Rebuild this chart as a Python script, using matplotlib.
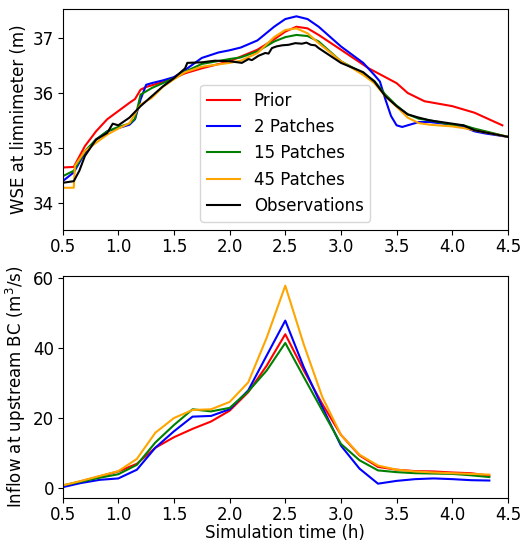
import matplotlib
matplotlib.use("Agg")
import matplotlib.pyplot as plt

# --- Water surface elevation at the limnimeter (m) ---
t_prior = [0.50, 0.60, 0.70, 0.80, 0.90, 1.00, 1.10, 1.15, 1.20, 1.25, 1.30, 1.40, 1.50, 1.60,
           1.75, 2.00, 2.25, 2.40, 2.50, 2.60, 2.70, 2.80, 3.00, 3.25, 3.50, 3.60, 3.75, 4.00,
           4.20, 4.45]
wse_prior = [34.64, 34.65, 35.03, 35.30, 35.52, 35.67, 35.82, 35.89, 36.06, 36.11, 36.14, 36.20,
             36.27, 36.36, 36.45, 36.58, 36.79, 36.98, 37.12, 37.21, 37.18, 37.06, 36.79, 36.45,
             36.18, 36.00, 35.85, 35.76, 35.64, 35.41]

t_p2 = [0.50, 0.60, 0.70, 0.80, 0.90, 1.00, 1.10, 1.15, 1.20, 1.25, 1.30, 1.40, 1.50, 1.60,
        1.75, 1.90, 2.00, 2.10, 2.25, 2.40, 2.50, 2.60, 2.70, 2.80, 3.00, 3.20, 3.30, 3.35,
        3.40, 3.45, 3.50, 3.55, 3.60, 3.70, 3.80, 4.00, 4.10, 4.20, 4.30, 4.50]
wse_p2 = [34.39, 34.55, 34.91, 35.15, 35.30, 35.36, 35.42, 35.52, 35.88, 36.15, 36.18, 36.23,
          36.29, 36.42, 36.64, 36.74, 36.78, 36.83, 36.96, 37.21, 37.35, 37.40, 37.35, 37.21,
          36.85, 36.55, 36.33, 36.21, 35.88, 35.58, 35.41, 35.38, 35.41, 35.47, 35.47, 35.42,
          35.38, 35.30, 35.26, 35.20]

t_p15 = [0.50, 0.60, 0.70, 0.80, 0.90, 1.00, 1.10, 1.15, 1.20, 1.25, 1.30, 1.40, 1.50, 1.60,
         1.75, 2.00, 2.10, 2.25, 2.40, 2.50, 2.60, 2.70, 2.80, 3.00, 3.20, 3.30, 3.40, 3.50,
         3.60, 3.70, 3.80, 4.00, 4.10, 4.20, 4.50]
wse_p15 = [34.48, 34.58, 34.94, 35.15, 35.30, 35.38, 35.44, 35.53, 35.97, 36.03, 36.09, 36.18,
           36.27, 36.39, 36.53, 36.62, 36.65, 36.76, 36.94, 37.02, 37.06, 37.04, 36.94, 36.58,
           36.36, 36.22, 35.97, 35.77, 35.61, 35.53, 35.50, 35.42, 35.41, 35.35, 35.20]

t_p45 = [0.50, 0.60, 0.61, 0.70, 0.80, 0.90, 1.00, 1.10, 1.20, 1.30, 1.40, 1.50, 1.60, 1.75,
         2.00, 2.10, 2.25, 2.40, 2.50, 2.60, 2.70, 2.80, 3.00, 3.20, 3.30, 3.40, 3.50, 3.60,
         3.70, 3.80, 4.00, 4.10, 4.20, 4.50]
wse_p45 = [34.27, 34.27, 34.67, 34.94, 35.09, 35.24, 35.35, 35.45, 35.79, 35.91, 36.11, 36.25,
           36.38, 36.48, 36.55, 36.59, 36.73, 37.02, 37.15, 37.18, 37.09, 36.91, 36.58, 36.33,
           36.18, 35.94, 35.75, 35.55, 35.45, 35.42, 35.39, 35.36, 35.32, 35.20]

t_obs = [0.50, 0.60, 0.65, 0.70, 0.80, 0.90, 0.95, 1.00, 1.10, 1.20, 1.30, 1.40, 1.50, 1.60,
         1.62, 1.75, 1.87, 2.00, 2.11, 2.17, 2.20, 2.26, 2.32, 2.35, 2.38, 2.42, 2.47, 2.53,
         2.59, 2.65, 2.69, 2.73, 2.77, 2.80, 3.00, 3.20, 3.30, 3.40, 3.50, 3.60, 3.70, 3.80,
         4.00, 4.10, 4.20, 4.50]
wse_obs = [34.36, 34.39, 34.58, 34.85, 35.15, 35.27, 35.44, 35.41, 35.55, 35.76, 35.94, 36.12,
           36.27, 36.45, 36.55, 36.56, 36.59, 36.58, 36.55, 36.62, 36.60, 36.68, 36.73, 36.72,
           36.82, 36.85, 36.87, 36.88, 36.91, 36.90, 36.92, 36.88, 36.87, 36.82, 36.55, 36.38,
           36.21, 35.94, 35.76, 35.61, 35.55, 35.50, 35.44, 35.41, 35.32, 35.20]

# --- Inflow hydrograph at the upstream boundary (m3/s), 10-minute steps ---
t_q = [0.500, 0.667, 0.833, 1.000, 1.167, 1.333, 1.500, 1.667, 1.833, 2.000, 2.167, 2.333,
       2.500, 2.667, 2.833, 3.000, 3.167, 3.333, 3.500, 3.667, 3.833, 4.000, 4.167, 4.333]
q_prior = [0.5, 1.9, 3.3, 4.7, 6.9, 11.5, 14.5, 16.9, 19.0, 22.1, 27.4, 35.0,
           44.0, 33.6, 24.0, 15.2, 9.3, 6.0, 5.2, 4.8, 4.7, 4.4, 4.2, 3.5]
q_p2 = [0.2, 1.4, 2.3, 2.7, 5.2, 11.5, 16.2, 20.4, 20.6, 22.5, 27.9, 37.9,
        47.9, 34.5, 23.1, 12.1, 5.5, 1.2, 2.0, 2.5, 2.7, 2.5, 2.2, 2.1]
q_p15 = [0.7, 1.8, 2.9, 3.9, 6.6, 13.0, 18.0, 22.5, 21.9, 22.9, 27.6, 33.6,
         41.5, 31.7, 22.1, 12.6, 7.9, 5.0, 4.5, 4.2, 4.1, 4.0, 3.6, 3.1]
q_p45 = [0.7, 2.0, 3.4, 4.8, 8.3, 15.8, 20.0, 22.3, 22.5, 24.6, 30.2, 43.0,
         57.9, 41.0, 26.0, 15.2, 9.5, 6.4, 5.2, 4.7, 4.4, 4.2, 4.0, 3.8]

labels = ["Prior", "2 Patches", "15 Patches", "45 Patches", "Observations"]
colors = ["red", "blue", "green", "orange", "black"]

plt.rcParams["font.size"] = 12
plt.rcParams["xtick.major.pad"] = 2.0
plt.rcParams["ytick.major.pad"] = 2.5

fig = plt.figure(figsize=(5.22, 5.41), dpi=100)
ax1 = fig.add_axes([0.120, 0.575, 0.853, 0.408])
ax2 = fig.add_axes([0.120, 0.0795, 0.853, 0.4105])

top_series = [(t_prior, wse_prior), (t_p2, wse_p2), (t_p15, wse_p15),
              (t_p45, wse_p45), (t_obs, wse_obs)]
for (t, y), lab, c in zip(top_series, labels, colors):
    ax1.plot(t, y, color=c, lw=1.5, label=lab)
ax1.set_xlim(0.5, 4.5)
ax1.set_ylim(33.5, 37.53)
ax1.set_xticks([0.5, 1.0, 1.5, 2.0, 2.5, 3.0, 3.5, 4.0, 4.5])
ax1.set_yticks([34, 35, 36, 37])
ax1.set_ylabel("WSE at limnimeter (m)")
ax1.legend(loc="lower center", fontsize=12)

bottom_series = [q_prior, q_p2, q_p15, q_p45]
for q, c in zip(bottom_series, colors[:4]):
    ax2.plot(t_q, q, color=c, lw=1.5)
ax2.set_xlim(0.5, 4.5)
ax2.set_ylim(-2.9, 60.7)
ax2.set_xticks([0.5, 1.0, 1.5, 2.0, 2.5, 3.0, 3.5, 4.0, 4.5])
ax2.set_yticks([0, 20, 40, 60])
ax2.set_ylabel("Inflow at upstream BC (m$^3$/s)")
ax2.set_xlabel("Simulation time (h)", labelpad=0.5)

fig.savefig("out.png", dpi=100)
